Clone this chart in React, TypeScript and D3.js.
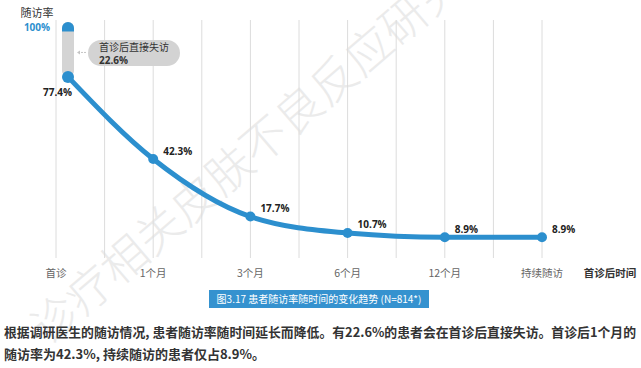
import React, { useRef, useEffect } from "react";
import * as d3 from "d3";

const categories = ["首诊", "1个月", "3个月", "6个月", "12个月", "持续随访"];
const rates = [77.4, 42.3, 17.7, 10.7, 8.9, 8.9];
const rateLabels = ["77.4%", "42.3%", "17.7%", "10.7%", "8.9%", "8.9%"];
const lostRate = 22.6;

const cjk = "'Noto Sans CJK SC', 'Noto Sans', sans-serif";
const num = "'Open Sans', 'Noto Sans', sans-serif";
const blue = "#2c8fce";

const App = () => {
  const svgRef = useRef<SVGSVGElement>(null);

  useEffect(() => {
    const svg = d3.select(svgRef.current);
    svg.selectAll("*").remove();

    const x = d3.scalePoint<string>().domain(categories).range([56, 542]);
    const y = d3.scaleLinear().domain([0, 100]).range([258, 24]);
    const step = x.step();
    // first point sits on the pill, a bit right of its gridline
    const px = (i: number) => (x(categories[i]) as number) + (i === 0 ? 12 : 0);

    // watermark
    svg
      .append("g")
      .attr("transform", "translate(55,320) rotate(-40.6)")
      .append("text")
      .attr("x", -23)
      .attr("dy", "0.35em")
      .attr("font-family", cjk)
      .attr("font-size", 46)
      .attr("font-weight", 300)
      .attr("fill", "#ebebeb")
      .text("诊疗相关皮肤不良反应研究");

    // gridlines, one on each category and one between
    const grid = d3.range(categories.length * 2 - 1).map((k) => 56 + (k * step) / 2);
    svg
      .append("g")
      .selectAll("line")
      .data(grid)
      .enter()
      .append("line")
      .attr("x1", (d) => d)
      .attr("x2", (d) => d)
      .attr("y1", 20)
      .attr("y2", 258)
      .attr("stroke", "#dcdcdc")
      .attr("stroke-width", 1);

    // x labels
    svg
      .append("g")
      .selectAll("text")
      .data(categories)
      .enter()
      .append("text")
      .attr("x", (d) => x(d) as number)
      .attr("y", 273)
      .attr("dy", "0.35em")
      .attr("text-anchor", "middle")
      .attr("font-family", cjk)
      .attr("font-size", 10.5)
      .attr("fill", "#666")
      .text((d) => d);

    svg
      .append("text")
      .attr("x", 610)
      .attr("y", 273)
      .attr("dy", "0.35em")
      .attr("text-anchor", "middle")
      .attr("font-family", cjk)
      .attr("font-size", 10.5)
      .attr("font-weight", 700)
      .attr("fill", "#333")
      .text("首诊后时间");

    // y title
    svg
      .append("text")
      .attr("x", 37)
      .attr("y", 13)
      .attr("dy", "0.35em")
      .attr("text-anchor", "middle")
      .attr("font-family", cjk)
      .attr("font-size", 11)
      .attr("fill", "#333")
      .text("随访率");
    svg
      .append("text")
      .attr("x", 37)
      .attr("y", 27)
      .attr("dy", "0.35em")
      .attr("text-anchor", "middle")
      .attr("font-family", num)
      .attr("font-size", 10)
      .attr("font-weight", 700)
      .attr("fill", blue)
      .text("100%");

    // pill for the lost-after-first-visit part
    const p0 = px(0);
    const yTop = y(100) - 2;
    svg
      .append("rect")
      .attr("x", p0 - 6)
      .attr("y", yTop)
      .attr("width", 12)
      .attr("height", y(rates[0]) - yTop)
      .attr("rx", 6)
      .attr("fill", "#d4d4d4");
    svg
      .append("path")
      .attr("d", `M${p0 - 6},${yTop + 9.5} L${p0 - 6},${yTop + 6} A6,6 0 0 1 ${p0 + 6},${yTop + 6} L${p0 + 6},${yTop + 9.5} Z`)
      .attr("fill", blue);

    // callout
    const cy = (y(100) + y(rates[0])) / 2;
    svg
      .append("line")
      .attr("x1", 86)
      .attr("x2", 78)
      .attr("y1", cy + 2)
      .attr("y2", cy + 2)
      .attr("stroke", "#c4c4c4")
      .attr("stroke-width", 1)
      .attr("stroke-dasharray", "2,1");
    svg
      .append("path")
      .attr("d", `M77,${cy + 2} L80,${cy} L80,${cy + 4} Z`)
      .attr("fill", "#c4c4c4");
    svg
      .append("rect")
      .attr("x", 88)
      .attr("y", 40)
      .attr("width", 92)
      .attr("height", 26)
      .attr("rx", 13)
      .attr("fill", "#d3d3d3");
    svg
      .append("text")
      .attr("x", 99)
      .attr("y", 47)
      .attr("dy", "0.35em")
      .attr("font-family", cjk)
      .attr("font-size", 10)
      .attr("fill", "#333")
      .text("首诊后直接失访");
    svg
      .append("text")
      .attr("x", 99)
      .attr("y", 60)
      .attr("dy", "0.35em")
      .attr("font-family", num)
      .attr("font-size", 10)
      .attr("font-weight", 700)
      .attr("fill", "#333")
      .text(`${lostRate}%`);

    // line
    const line = d3
      .line<number>()
      .x((d, i) => px(i))
      .y((d) => y(d))
      .curve(d3.curveMonotoneX);
    svg
      .append("path")
      .datum(rates)
      .attr("d", line)
      .attr("fill", "none")
      .attr("stroke", blue)
      .attr("stroke-width", 5)
      .attr("stroke-linecap", "round");

    svg
      .append("g")
      .selectAll("circle")
      .data(rates)
      .enter()
      .append("circle")
      .attr("cx", (d, i) => px(i))
      .attr("cy", (d) => y(d))
      .attr("r", (d, i) => (i === 0 ? 6 : 5))
      .attr("fill", blue);

    // value labels
    svg
      .append("g")
      .selectAll("text")
      .data(rateLabels)
      .enter()
      .append("text")
      .attr("x", (d, i) => (i === 0 ? px(i) + 4 : px(i) + 10))
      .attr("y", (d, i) => (i === 0 ? y(rates[i]) + 16 : y(rates[i]) - 8))
      .attr("dy", "0.35em")
      .attr("text-anchor", (d, i) => (i === 0 ? "end" : "start"))
      .attr("font-family", num)
      .attr("font-size", 10)
      .attr("font-weight", 700)
      .attr("fill", "#222")
      .text((d) => d);

    // caption
    svg
      .append("rect")
      .attr("x", 209)
      .attr("y", 290)
      .attr("width", 220)
      .attr("height", 18)
      .attr("fill", "#3592cf");
    svg
      .append("text")
      .attr("x", 319)
      .attr("y", 299)
      .attr("dy", "0.35em")
      .attr("text-anchor", "middle")
      .attr("font-family", cjk)
      .attr("font-size", 10)
      .attr("fill", "#fff")
      .text("图3.17 患者随访率随时间的变化趋势 (N=814*)");

    // paragraph
    svg
      .append("text")
      .attr("x", 4)
      .attr("y", 332)
      .attr("dy", "0.35em")
      .attr("font-family", cjk)
      .attr("font-size", 13)
      .attr("font-weight", 700)
      .attr("fill", "#333")
      .attr("textLength", 632)
      .attr("lengthAdjust", "spacingAndGlyphs")
      .text("根据调研医生的随访情况, 患者随访率随时间延长而降低。有22.6%的患者会在首诊后直接失访。首诊后1个月的");
    svg
      .append("text")
      .attr("x", 4)
      .attr("y", 354)
      .attr("dy", "0.35em")
      .attr("font-family", cjk)
      .attr("font-size", 13)
      .attr("font-weight", 700)
      .attr("fill", "#333")
      .text("随访率为42.3%, 持续随访的患者仅占8.9%。");
  }, []);

  return (
    <svg
      ref={svgRef}
      width={641}
      height={368}
      style={{ position: "absolute", left: 0, top: 0, background: "#fff" }}
    ></svg>
  );
};

export default App;
